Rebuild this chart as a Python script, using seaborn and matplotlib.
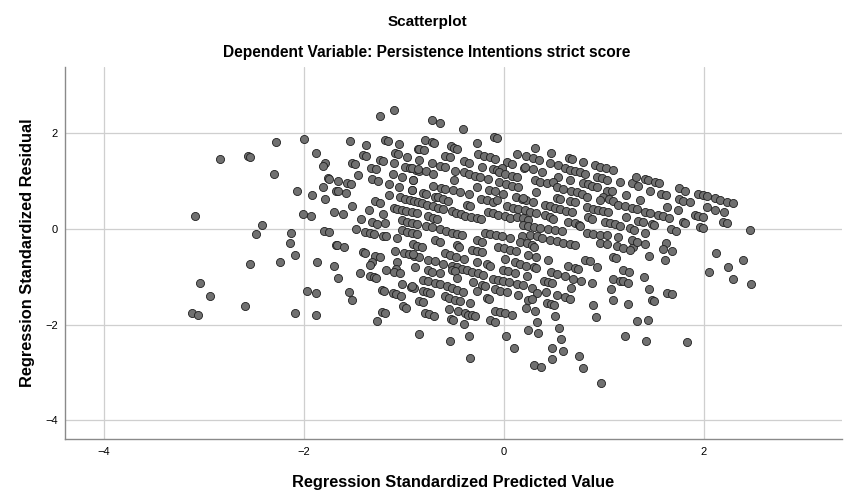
import matplotlib
matplotlib.use("Agg")
import matplotlib.pyplot as plt
import numpy as np
import pandas as pd
import seaborn as sns

# --- DATA (standardized predicted value, standardized residual) ---
far_left = [(-2.28, 1.82), (-2.00, 1.88), (-1.88, 1.58), (-2.84, 1.46), (-2.56, 1.53), (-2.54, 1.51),
            (-2.30, 1.15), (-2.07, 0.79), (-1.92, 0.70), (-3.09, 0.26), (-2.01, 0.31), (-1.93, 0.27),
            (-2.42, 0.09), (-2.48, -0.10), (-2.13, -0.08), (-2.14, -0.30), (-2.09, -0.55), (-2.54, -0.74),
            (-2.24, -0.69), (-1.87, -0.69), (-3.04, -1.13), (-2.94, -1.41), (-2.59, -1.61), (-3.12, -1.75),
            (-3.06, -1.80), (-2.09, -1.75), (-1.97, -1.29), (-1.88, -1.34), (-1.88, -1.80)]

left_upper = [(-1.24, 2.35), (-1.10, 2.49), (-1.54, 1.84), (-1.38, 1.75), (-1.19, 1.86), (-1.16, 1.84),
              (-1.05, 1.78), (-0.86, 1.66), (-1.41, 1.54), (-1.38, 1.53), (-1.09, 1.58), (-1.06, 1.57),
              (-0.97, 1.51), (-1.79, 1.38), (-1.81, 1.32), (-1.52, 1.38), (-1.49, 1.36), (-1.24, 1.44),
              (-1.21, 1.42), (-1.10, 1.37), (-0.99, 1.30), (-0.94, 1.27), (-0.88, 1.23), (-0.85, 1.21),
              (-1.33, 1.27), (-1.28, 1.24), (-1.46, 1.12), (-1.76, 1.07), (-1.75, 1.05), (-1.66, 1.00),
              (-1.57, 0.96), (-1.53, 0.93), (-1.32, 1.04), (-1.26, 1.00), (-1.11, 1.14), (-1.02, 1.09),
              (-0.91, 1.02), (-1.15, 0.94), (-1.81, 0.87), (-1.68, 0.80), (-1.66, 0.79), (-1.58, 0.74),
              (-1.79, 0.63), (-1.05, 0.88), (-0.92, 0.81), (-1.15, 0.71), (-1.04, 0.66), (-0.99, 0.63),
              (-0.94, 0.60), (-0.90, 0.58), (-0.86, 0.56), (-1.52, 0.48), (-1.29, 0.58), (-1.24, 0.54),
              (-1.70, 0.36), (-1.61, 0.30), (-1.35, 0.39), (-1.21, 0.30), (-1.10, 0.44), (-1.07, 0.42),
              (-1.02, 0.40), (-0.98, 0.38), (-0.92, 0.35), (-0.87, 0.33), (-1.43, 0.21), (-1.32, 0.14),
              (-1.27, 0.10), (-1.19, 0.13), (-1.02, 0.19), (-0.97, 0.15), (-0.92, 0.12), (-0.87, 0.10),
              (-1.48, 0.00), (-1.80, -0.04), (-1.75, -0.07), (-1.39, -0.06), (-1.34, -0.08), (-1.30, -0.11),
              (-1.21, -0.14), (-1.18, -0.16), (-1.07, -0.19), (-1.02, -0.02), (-0.97, -0.07), (-0.92, -0.09),
              (-0.87, -0.10)]

left_lower = [(-1.68, -0.33), (-1.67, -0.34), (-1.60, -0.38), (-1.41, -0.49), (-1.39, -0.50), (-1.29, -0.56),
              (-1.24, -0.59), (-1.09, -0.46), (-1.00, -0.51), (-0.95, -0.53), (-0.90, -0.56), (-0.85, -0.58),
              (-1.70, -0.77), (-1.32, -0.70), (-1.34, -0.75), (-1.07, -0.70), (-1.18, -0.86), (-1.08, -0.84),
              (-1.10, -0.90), (-1.04, -0.92), (-0.89, -0.80), (-1.44, -0.92), (-1.66, -1.02), (-1.34, -0.98),
              (-1.30, -1.01), (-1.28, -1.02), (-1.02, -1.15), (-0.93, -1.22), (-0.90, -1.23), (-1.55, -1.32),
              (-1.52, -1.48), (-1.22, -1.27), (-1.20, -1.29), (-1.11, -1.34), (-1.08, -1.36), (-1.03, -1.41),
              (-0.85, -1.50), (-1.01, -1.62), (-0.98, -1.65), (-1.22, -1.73), (-1.19, -1.75), (-1.27, -1.92),
              (-0.85, -2.19)]

mid_upper = [(-0.72, 2.27), (-0.64, 2.22), (-0.41, 2.09), (-0.10, 1.91), (-0.07, 1.89), (-0.79, 1.86),
             (-0.72, 1.82), (-0.70, 1.80), (-0.27, 1.79), (-0.85, 1.66), (-0.80, 1.64), (-0.53, 1.72),
             (-0.50, 1.68), (-0.47, 1.67), (-0.59, 1.52), (-0.54, 1.49), (-0.26, 1.56), (-0.20, 1.52),
             (-0.14, 1.49), (-0.09, 1.46), (0.13, 1.57), (-0.85, 1.44), (-0.72, 1.37), (-0.40, 1.41),
             (-0.35, 1.38), (0.03, 1.40), (0.08, 1.36), (-0.64, 1.32), (-0.59, 1.29), (-0.22, 1.30),
             (-0.11, 1.25), (-0.07, 1.22), (-0.02, 1.26), (0.20, 1.27), (-0.92, 1.27), (-0.86, 1.24),
             (-0.78, 1.20), (-0.71, 1.15), (-0.49, 1.21), (-0.40, 1.18), (-0.35, 1.15), (-0.29, 1.11),
             (-0.24, 1.08), (-0.16, 1.04), (-0.05, 1.18), (0.01, 1.15), (0.08, 1.11), (0.13, 1.08),
             (-0.91, 1.02), (-0.50, 1.01), (-0.05, 0.97), (0.02, 0.93), (0.08, 0.90), (0.14, 0.87),
             (-0.71, 0.90), (-0.63, 0.86), (-0.59, 0.84), (-0.51, 0.81), (-0.44, 0.77), (-0.35, 0.72),
             (-0.27, 0.88), (-0.15, 0.81), (-0.09, 0.78), (-0.92, 0.82), (-0.81, 0.75), (-0.78, 0.72),
             (-0.69, 0.67), (-0.66, 0.66), (-0.61, 0.62), (-0.56, 0.59), (-0.23, 0.63), (-0.17, 0.61),
             (-0.11, 0.57), (-0.07, 0.61), (-0.01, 0.72), (0.12, 0.66), (0.18, 0.63), (0.22, 0.61),
             (-0.37, 0.49), (-0.34, 0.47), (-0.82, 0.53), (-0.77, 0.50), (-0.71, 0.47), (-0.66, 0.44),
             (-0.61, 0.42), (0.03, 0.48), (0.09, 0.44), (0.14, 0.41), (0.21, 0.40), (-0.52, 0.38),
             (-0.48, 0.34), (-0.43, 0.30), (-0.39, 0.27), (-0.33, 0.24), (-0.27, 0.22), (-0.23, 0.20),
             (-0.16, 0.36), (-0.11, 0.33), (-0.06, 0.29), (-0.76, 0.26), (-0.71, 0.22), (-0.67, 0.20),
             (0.01, 0.26), (0.06, 0.22), (0.13, 0.24), (0.19, 0.22), (0.24, 0.19), (-0.78, 0.05),
             (-0.72, 0.04), (-0.64, -0.01), (-0.58, -0.04), (-0.52, -0.08), (-0.47, -0.10), (-0.42, -0.13),
             (-0.19, -0.08), (-0.14, -0.10), (-0.08, -0.13), (-0.02, -0.15), (0.18, -0.16)]

mid_lower = [(-0.91, -0.31), (-0.87, -0.35), (-0.82, -0.37), (-0.69, -0.23), (-0.64, -0.27), (-0.47, -0.33),
             (-0.45, -0.37), (-0.27, -0.24), (-0.22, -0.28), (-0.06, -0.37), (0.00, -0.40), (0.06, -0.44),
             (0.12, -0.47), (0.06, -0.19), (0.16, -0.27), (0.23, -0.30), (-0.91, -0.52), (-0.59, -0.51),
             (-0.54, -0.54), (-0.48, -0.58), (-0.32, -0.44), (-0.27, -0.47), (-0.22, -0.49), (-0.76, -0.65),
             (-0.69, -0.68), (-0.61, -0.73), (-0.40, -0.63), (-0.27, -0.70), (-0.17, -0.74), (-0.14, -0.77),
             (0.01, -0.63), (0.11, -0.70), (0.16, -0.73), (0.22, -0.77), (-0.52, -0.77), (-0.47, -0.80),
             (-0.42, -0.84), (-0.37, -0.87), (-0.32, -0.90), (-0.26, -0.93), (-0.21, -0.96), (-0.52, -0.86),
             (-0.49, -0.89), (-0.01, -0.86), (0.04, -0.89), (0.11, -0.92), (-0.76, -0.87), (-0.72, -0.90),
             (-0.64, -0.92), (0.23, -0.98), (-0.47, -1.03), (-0.81, -1.06), (-0.76, -1.10), (-0.69, -1.13),
             (-0.64, -1.15), (-0.31, -1.12), (-0.22, -1.17), (-0.19, -1.20), (-0.11, -1.05), (-0.06, -1.07),
             (-0.01, -1.10), (0.05, -1.12), (0.13, -1.15), (0.19, -1.18), (-0.92, -1.20), (-0.57, -1.20),
             (-0.52, -1.24), (-0.47, -1.27), (-0.41, -1.31), (-0.27, -1.29), (-0.09, -1.26), (-0.04, -1.29),
             (0.03, -1.32), (-0.81, -1.29), (-0.77, -1.33), (-0.74, -1.34), (0.14, -1.38), (-0.59, -1.41),
             (-0.55, -1.45), (-0.49, -1.48), (-0.44, -1.50), (-0.17, -1.45), (-0.15, -1.47), (-0.81, -1.52),
             (-0.34, -1.55), (0.24, -1.48), (-0.55, -1.68), (-0.46, -1.71), (-0.39, -1.76), (-0.36, -1.80),
             (-0.32, -1.81), (-0.29, -1.82), (-0.09, -1.71), (-0.04, -1.73), (0.01, -1.76), (0.08, -1.80),
             (-0.79, -1.75), (-0.75, -1.78), (-0.70, -1.82), (0.22, -1.66), (-0.53, -1.89), (-0.51, -1.91),
             (-0.14, -1.90), (-0.09, -1.94), (-0.40, -1.98), (0.24, -2.12), (-0.35, -2.23), (0.02, -2.23),
             (-0.54, -2.34), (0.10, -2.49), (-0.34, -2.69)]

right_upper = [(0.31, 1.68), (0.47, 1.59), (0.22, 1.52), (0.29, 1.48), (0.35, 1.43), (0.65, 1.48),
               (0.68, 1.46), (0.79, 1.39), (0.46, 1.37), (0.54, 1.34), (0.91, 1.34), (0.96, 1.30),
               (1.02, 1.27), (1.09, 1.22), (0.21, 1.29), (0.29, 1.25), (0.38, 1.18), (0.61, 1.27),
               (0.66, 1.23), (0.71, 1.21), (0.76, 1.18), (0.81, 1.15), (0.54, 1.09), (0.93, 1.09),
               (0.98, 1.06), (1.03, 1.02), (0.31, 1.01), (0.36, 0.98), (0.43, 0.95), (0.49, 0.98),
               (0.66, 1.02), (0.79, 0.95), (0.84, 0.94), (0.88, 0.90), (0.93, 0.87), (1.16, 0.97),
               (1.28, 0.95), (1.34, 0.90), (0.53, 0.87), (0.59, 0.84), (0.67, 0.80), (0.73, 0.77),
               (0.78, 0.73), (1.03, 0.80), (1.08, 0.78), (0.32, 0.77), (1.22, 0.71), (0.99, 0.66),
               (1.05, 0.62), (1.09, 0.58), (0.19, 0.64), (0.53, 0.64), (0.56, 0.62), (0.66, 0.59),
               (0.71, 0.56), (0.83, 0.67), (0.29, 0.55), (0.41, 0.50), (0.46, 0.47), (0.51, 0.43),
               (0.56, 0.41), (0.62, 0.38), (0.68, 0.36), (0.96, 0.61), (1.14, 0.50), (1.21, 0.47),
               (1.28, 0.44), (1.33, 0.41), (0.83, 0.45), (0.89, 0.41), (0.94, 0.40), (0.99, 0.38),
               (1.04, 0.35), (0.26, 0.36), (0.32, 0.33), (0.41, 0.29), (0.46, 0.24), (0.49, 0.20),
               (0.64, 0.15), (0.71, 0.12), (0.75, 0.08), (0.84, 0.24), (0.88, 0.20), (1.01, 0.15),
               (1.06, 0.13), (1.11, 0.10), (1.16, 0.06), (1.26, 0.01), (1.30, -0.02), (1.22, 0.24),
               (0.19, 0.08), (0.24, 0.05), (0.30, 0.04), (0.36, 0.01), (0.44, -0.01), (0.51, -0.02),
               (0.58, -0.04), (0.76, 0.05), (0.83, -0.08), (0.89, -0.10), (0.96, -0.13), (1.03, -0.13),
               (1.14, -0.17), (0.26, -0.13), (0.33, -0.15), (0.38, -0.19), (0.46, -0.23), (0.53, -0.26),
               (0.59, -0.29), (0.66, -0.31), (0.71, -0.33), (0.96, -0.29), (1.03, -0.32), (0.28, -0.33),
               (0.30, -0.37), (1.13, -0.35), (1.19, -0.40), (1.29, -0.37)]

right_lower = [(0.24, -0.54), (0.32, -0.59), (0.44, -0.66), (0.30, -0.80), (0.32, -0.82), (0.64, -0.77),
               (0.71, -0.81), (0.74, -0.84), (0.81, -0.65), (0.86, -0.68), (0.93, -0.79), (1.09, -0.58),
               (1.12, -0.60), (1.26, -0.45), (0.47, -0.91), (0.53, -0.94), (0.61, -0.98), (1.19, -0.87),
               (1.25, -0.90), (0.69, -1.04), (0.77, -1.08), (0.40, -1.09), (0.44, -1.11), (0.48, -1.13),
               (1.09, -1.04), (1.16, -1.08), (1.19, -1.10), (1.24, -1.13), (0.88, -1.13), (0.28, -1.24),
               (0.33, -1.34), (0.42, -1.32), (0.67, -1.24), (1.07, -1.25), (0.53, -1.38), (0.61, -1.43),
               (0.66, -1.46), (0.28, -1.47), (1.09, -1.48), (0.43, -1.54), (0.47, -1.57), (0.50, -1.59),
               (1.24, -1.57), (0.89, -1.59), (0.31, -1.71), (0.51, -1.83), (0.92, -1.84), (0.33, -1.95),
               (1.33, -1.93), (0.55, -2.07), (0.34, -2.18), (1.21, -2.24), (0.57, -2.31), (0.48, -2.49),
               (0.59, -2.55), (0.75, -2.65), (0.48, -2.71), (0.30, -2.84), (0.37, -2.88), (0.79, -2.90),
               (0.97, -3.22)]

far_right = [(1.32, 1.09), (1.41, 1.04), (1.44, 1.01), (1.51, 0.97), (1.55, 0.95), (1.46, 0.78),
             (1.57, 0.72), (1.62, 0.70), (1.75, 0.85), (1.81, 0.80), (1.94, 0.73), (1.99, 0.70),
             (2.03, 0.68), (2.11, 0.64), (2.16, 0.61), (2.23, 0.57), (2.29, 0.54), (1.36, 0.61),
             (1.75, 0.62), (1.79, 0.59), (1.86, 0.55), (1.41, 0.36), (1.46, 0.34), (1.63, 0.45),
             (1.74, 0.40), (2.03, 0.45), (2.11, 0.40), (2.20, 0.35), (1.54, 0.29), (1.59, 0.26),
             (1.65, 0.22), (1.91, 0.29), (1.94, 0.27), (1.99, 0.24), (1.34, 0.17), (1.39, 0.14),
             (1.48, 0.10), (1.50, 0.08), (1.79, 0.15), (1.81, 0.13), (2.19, 0.15), (2.23, 0.12),
             (1.41, -0.08), (1.67, -0.01), (1.72, -0.04), (1.96, 0.04), (1.99, 0.01), (2.46, -0.02),
             (1.28, -0.23), (1.33, -0.28), (1.41, -0.32), (1.62, -0.29), (1.59, -0.42), (1.68, -0.46),
             (1.45, -0.56), (2.12, -0.51), (1.61, -0.65), (2.39, -0.66), (2.24, -0.79), (2.05, -0.91),
             (2.29, -1.05), (2.47, -1.15), (1.40, -1.00), (1.45, -1.25), (1.63, -1.35), (1.68, -1.37),
             (1.48, -1.48), (1.50, -1.50), (1.44, -1.91), (1.42, -2.35), (1.83, -2.37)]

x_ticks = [-4, -2, 0, 2]
y_ticks = [-4, -2, 0, 2]
x_range = (-4.39, 3.38)
y_range = (-4.39, 3.38)

title = "Scatterplot"
subtitle = "Dependent Variable: Persistence Intentions strict score"
x_label = "Regression Standardized Predicted Value"
y_label = "Regression Standardized Residual"

# --- STYLE ---
sns.set_style("white")
plt.rcParams['font.family'] = ['Liberation Sans', 'DejaVu Sans']
plt.rcParams.update({'text.color': 'black', 'axes.labelcolor': 'black',
                     'xtick.color': 'black', 'ytick.color': 'black'})

groups = [far_left, left_upper, left_lower, mid_upper, mid_lower, right_upper, right_lower, far_right]
pts = np.array([p for g in groups for p in g])
df = pd.DataFrame({"pred": pts[:, 0], "resid": pts[:, 1]})

W, H = 854, 504
fig = plt.figure(figsize=(W / 100, H / 100), dpi=100)
ax = fig.add_axes([65 / W, 1 - 439 / H, (842 - 65) / W, (439 - 67) / H])

sns.scatterplot(data=df, x="pred", y="resid", ax=ax, s=34, color="#707070",
                edgecolor="#1e1e1e", linewidth=0.6, zorder=3, legend=False)

ax.set_xlim(*x_range)
ax.set_ylim(*y_range)
ax.set_xticks(x_ticks)
ax.set_yticks(y_ticks)
ax.grid(True, color="#cfcfcf", linewidth=0.9, zorder=0)
ax.set_axisbelow(True)
for side in ["top", "right"]:
    ax.spines[side].set_visible(False)
for side in ["left", "bottom"]:
    ax.spines[side].set_color("#8a8a8a")
    ax.spines[side].set_linewidth(1.0)
ax.tick_params(axis="both", length=0, labelsize=8, colors="black")
ax.tick_params(axis="x", pad=6)
ax.tick_params(axis="y", pad=5)

ax.set_xlabel(x_label, fontsize=11.8, fontweight="bold", va="center")
ax.xaxis.set_label_coords(0.5, -(482 - 439) / (439 - 67))
ax.set_ylabel(y_label, fontsize=11.8, fontweight="bold", va="center", ha="center")
ax.yaxis.set_label_coords(-(65 - 28) / (842 - 65), 0.5)

fig.text(0.5, 1 - 22 / H, title, ha="center", va="center", fontsize=11, fontweight="bold")
fig.text(0.5, 1 - 53 / H, subtitle, ha="center", va="center", fontsize=11.2, fontweight="bold")

fig.savefig("out.png", dpi=100)
